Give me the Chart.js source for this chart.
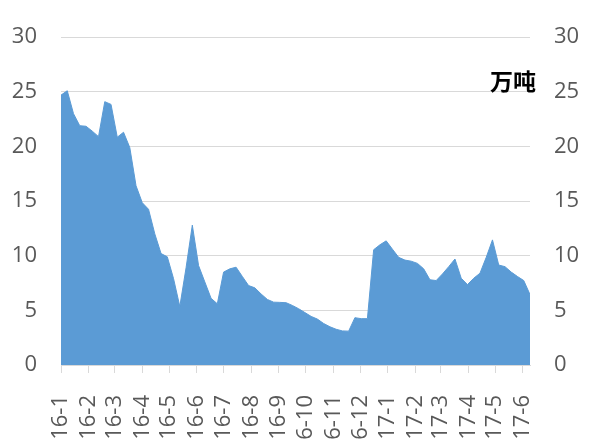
<!DOCTYPE html>
<html lang="zh">
<head>
    <meta charset="UTF-8">
    <title>Weekly volume</title>
    <script src="https://cdn.jsdelivr.net/npm/chart.js"></script>
    <style>
        body {
            margin: 0;
            background: #ffffff;
            overflow: hidden;
        }
        .wrap {
            position: relative;
            width: 590px;
            height: 441px;
        }
        .unit {
            position: absolute;
            left: 490px;
            top: 63px;
            font-family: "Noto Sans CJK SC", sans-serif;
            font-weight: bold;
            font-size: 23px;
            color: #000000;
        }
    </style>
</head>
<body>
    <div class="wrap">
        <canvas id="chart" width="590" height="441"></canvas>
        <div class="unit">万吨</div>
    </div>

    <script>
        // weekly values, first week starts 2016-01-01
        const weekValues = [
            24.7, 25.1, 23.0, 21.9, 21.85, 21.4, 20.9, 24.1, 23.85, 20.85,
            21.3, 19.9, 16.4, 14.85, 14.25, 12.0, 10.2, 9.9, 7.9, 5.35,
            8.9, 12.8, 9.1, 7.6, 6.1, 5.6, 8.5, 8.8, 8.95, 8.1,
            7.27, 7.06, 6.5, 6.0, 5.75, 5.73, 5.7, 5.45, 5.15, 4.8,
            4.45, 4.2, 3.8, 3.5, 3.27, 3.12, 3.1, 4.33, 4.24, 4.24,
            10.55, 11.0, 11.36, 10.6, 9.85, 9.6, 9.5, 9.3, 8.8, 7.8,
            7.73, 8.33, 9.0, 9.7, 7.94, 7.36, 7.94, 8.4, 9.85, 11.45,
            9.15, 9.0, 8.5, 8.1, 7.73, 6.45
        ];
        const monthLabels = ['16-1', '16-2', '16-3', '16-4', '16-5', '16-6', '16-7', '16-8', '16-9',
            '16-10', '16-11', '16-12', '17-1', '17-2', '17-3', '17-4', '17-5', '17-6'];
        const yTicks = [0, 5, 10, 15, 20, 25, 30];

        const DAY = 86400000;
        const start = Date.UTC(2016, 0, 1);
        const monthDays = monthLabels.map(l => {
            const [yy, mm] = l.split('-').map(Number);
            return (Date.UTC(2000 + yy, mm - 1, 1) - start) / DAY;
        });
        const points = weekValues.map((v, i) => ({ x: i * 7, y: v }));

        const tickFont = { family: '"Open Sans", "Noto Sans", sans-serif', size: 22 };
        const tickColor = '#595959';
        const gridColor = '#d9d9d9';

        function yAxis(position, width, onChart) {
            return {
                type: 'linear',
                position: position,
                min: 0,
                max: 30,
                afterBuildTicks: s => { s.ticks = yTicks.map(v => ({ value: v })); },
                ticks: { font: tickFont, color: tickColor, padding: 24 },
                grid: { color: gridColor, drawTicks: false, drawOnChartArea: onChart, lineWidth: 1 },
                border: { display: false },
                afterFit: s => { s.width = width; }
            };
        }

        new Chart(document.getElementById('chart'), {
            type: 'line',
            data: {
                datasets: [{
                    data: points,
                    fill: 'origin',
                    backgroundColor: '#5b9bd5',
                    borderColor: '#5b9bd5',
                    borderWidth: 1,
                    pointRadius: 0,
                    tension: 0
                }]
            },
            options: {
                responsive: false,
                animation: false,
                devicePixelRatio: 1,
                layout: { padding: { top: 35, left: 0, right: 0, bottom: 0 } },
                plugins: { legend: { display: false }, tooltip: { enabled: false } },
                scales: {
                    x: {
                        type: 'linear',
                        min: 0,
                        max: (weekValues.length - 1) * 7,
                        afterBuildTicks: s => { s.ticks = monthDays.map(v => ({ value: v })); },
                        ticks: {
                            autoSkip: false,
                            minRotation: 90,
                            maxRotation: 90,
                            padding: 22,
                            font: tickFont,
                            color: tickColor,
                            callback: (v, i) => monthLabels[i]
                        },
                        grid: { drawOnChartArea: false, tickLength: 8, color: gridColor },
                        border: { color: gridColor },
                        afterFit: s => { s.height = 76; }
                    },
                    y: yAxis('left', 61, true),
                    y2: yAxis('right', 60, false)
                }
            }
        });
    </script>
</body>
</html>
